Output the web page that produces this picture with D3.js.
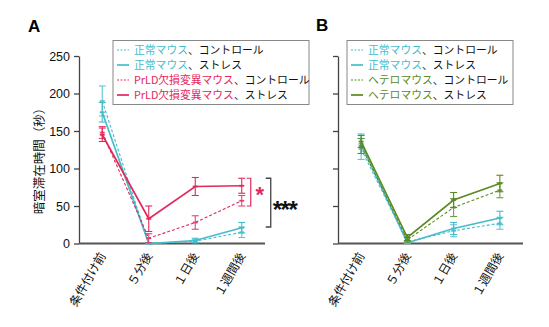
<!DOCTYPE html>
<html>
<head>
<meta charset="utf-8">
<script src="https://cdn.jsdelivr.net/npm/d3@7"></script>
<style>
  html, body { margin: 0; padding: 0; background: #fff; }
  svg { display: block; }
</style>
</head>
<body>
<svg id="chart" width="549" height="327"></svg>
<script>
// time points and y ticks
const timepoints = ["条件付け前", "５分後", "１日後", "１週間後"];
const yTicks = [0, 50, 100, 150, 200, 250];

// panel A: mean and SEM (seconds in dark chamber)
const aNormalCtrl = [190, 0, 3, 15];
const aNormalCtrlErr = [20, 1, 2, 7];
const aNormalStress = [175, 0, 4, 21];
const aNormalStressErr = [13, 1, 3, 7];
const aPrldCtrl = [148, 7, 28, 57];
const aPrldCtrlErr = [8, 6, 9, 7];
const aPrldStress = [145, 33, 76, 77];
const aPrldStressErr = [9, 17, 12, 10];

// panel B
const bNormalCtrl = [126, 2, 17, 27];
const bNormalCtrlErr = [14, 2, 8, 8];
const bNormalStress = [133, 1, 20, 34];
const bNormalStressErr = [13, 1, 8, 9];
const bHeteroCtrl = [130, 5, 48, 71];
const bHeteroCtrlErr = [10, 3, 12, 10];
const bHeteroStress = [136, 8, 58, 80];
const bHeteroStressErr = [8, 4, 10, 11];

const CYAN = "#46bccb", RED = "#e3285c", GREEN = "#5b8a23";
const JP = "'Noto Sans CJK JP', 'Noto Sans', sans-serif";
const NUM = "'Liberation Sans', Arial, sans-serif";

const svg = d3.select("#chart");
const y = d3.scaleLinear().domain([0, 250]).range([243.5, 56]);

const panels = [
  {
    letter: "A", lx: 28, ly: 32, x0: 79, x1: 265, showTicks: true,
    legend: { x: 113, w: 196 },
    series: [
      { v: aNormalCtrl, e: aNormalCtrlErr, c: CYAN, dash: true, name: "正常マウス", cond: "、コントロール" },
      { v: aNormalStress, e: aNormalStressErr, c: CYAN, dash: false, name: "正常マウス", cond: "、ストレス" },
      { v: aPrldCtrl, e: aPrldCtrlErr, c: RED, dash: true, name: "PrLD欠損変異マウス", cond: "、コントロール" },
      { v: aPrldStress, e: aPrldStressErr, c: RED, dash: false, name: "PrLD欠損変異マウス", cond: "、ストレス" }
    ]
  },
  {
    letter: "B", lx: 316, ly: 31, x0: 338, x1: 523, showTicks: false,
    legend: { x: 347, w: 166 },
    series: [
      { v: bNormalCtrl, e: bNormalCtrlErr, c: CYAN, dash: true, name: "正常マウス", cond: "、コントロール" },
      { v: bNormalStress, e: bNormalStressErr, c: CYAN, dash: false, name: "正常マウス", cond: "、ストレス" },
      { v: bHeteroCtrl, e: bHeteroCtrlErr, c: GREEN, dash: true, name: "ヘテロマウス", cond: "、コントロール" },
      { v: bHeteroStress, e: bHeteroStressErr, c: GREEN, dash: false, name: "ヘテロマウス", cond: "、ストレス" }
    ]
  }
];

panels.forEach(p => {
  const x = d3.scalePoint().domain(timepoints).range([p.x0, p.x1]).padding(0.5);
  const g = svg.append("g");

  // panel letter
  g.append("text")
    .attr("x", p.lx).attr("y", p.ly)
    .attr("font-family", NUM).attr("font-weight", 700).attr("font-size", 17)
    .text(p.letter);

  // y axis
  const yAxis = d3.axisLeft(y).tickValues(yTicks).tickSize(5).tickSizeOuter(0)
    .tickFormat(p.showTicks ? d3.format("d") : "");
  const ya = g.append("g").attr("transform", `translate(${p.x0},0)`).call(yAxis);
  ya.select(".domain").attr("stroke", "#444").attr("stroke-width", 1.3);
  ya.selectAll(".tick line").attr("stroke", "#444").attr("stroke-width", 1.3);
  ya.selectAll(".tick text").attr("font-family", NUM).attr("font-size", 12.5).attr("fill", "#111").attr("dx", -1);

  // x axis (line only, rotated labels)
  g.append("line")
    .attr("x1", p.x0).attr("x2", p.x1).attr("y1", y(0)).attr("y2", y(0))
    .attr("stroke", "#555").attr("stroke-width", 1.8);
  g.selectAll("text.xl").data(timepoints).enter().append("text")
    .attr("class", "xl")
    .attr("font-family", JP).attr("font-size", 12).attr("fill", "#111")
    .attr("text-anchor", "end")
    .attr("transform", d => `translate(${x(d) + 4},${y(0) + 12}) rotate(-60)`)
    .text(d => d);

  // series: error bars, then lines
  p.series.forEach(s => {
    const pts = s.v.map((v, i) => ({ t: timepoints[i], v, e: s.e[i] }));
    const sg = g.append("g");
    const eb = sg.selectAll("g.eb").data(pts).enter().append("g")
      .attr("stroke", s.c).attr("stroke-width", 1.1).attr("opacity", s.dash ? 0.85 : 1);
    eb.append("line")
      .attr("x1", d => x(d.t)).attr("x2", d => x(d.t))
      .attr("y1", d => y(Math.min(250, d.v + d.e))).attr("y2", d => y(Math.max(0, d.v - d.e)));
    eb.append("line")
      .attr("x1", d => x(d.t) - 3.5).attr("x2", d => x(d.t) + 3.5)
      .attr("y1", d => y(Math.min(250, d.v + d.e))).attr("y2", d => y(Math.min(250, d.v + d.e)));
    eb.append("line")
      .attr("x1", d => x(d.t) - 3.5).attr("x2", d => x(d.t) + 3.5)
      .attr("y1", d => y(Math.max(0, d.v - d.e))).attr("y2", d => y(Math.max(0, d.v - d.e)));
    eb.append("line")
      .attr("x1", d => x(d.t) - 2.5).attr("x2", d => x(d.t) + 2.5)
      .attr("y1", d => y(d.v)).attr("y2", d => y(d.v)).attr("stroke-width", 1.8);

    sg.append("path")
      .datum(pts)
      .attr("fill", "none")
      .attr("stroke", s.c)
      .attr("stroke-width", s.dash ? 1.1 : 1.7)
      .attr("stroke-dasharray", s.dash ? "3,2" : null)
      .attr("d", d3.line().x(d => x(d.t)).y(d => y(d.v)));
  });

  // legend
  const L = p.legend;
  const lg = g.append("g");
  lg.append("rect")
    .attr("x", L.x).attr("y", 40.5).attr("width", L.w).attr("height", 64)
    .attr("fill", "#fff").attr("stroke", "#888").attr("stroke-width", 1);
  p.series.forEach((s, i) => {
    const ry = 50 + i * 15;
    lg.append("line")
      .attr("x1", L.x + 4).attr("x2", L.x + 16).attr("y1", ry).attr("y2", ry)
      .attr("stroke", s.c).attr("stroke-width", s.dash ? 1.2 : 1.7)
      .attr("stroke-dasharray", s.dash ? "2,1.5" : null);
    const t = lg.append("text")
      .attr("x", L.x + 21).attr("y", ry).attr("dy", "0.36em")
      .attr("font-family", JP).attr("font-size", 10.8);
    t.append("tspan").attr("fill", s.c).text(s.name);
    t.append("tspan").attr("fill", "#111").text(s.cond);
  });

  // significance marks in panel A
  if (p.letter === "A") {
    const last = timepoints[3];
    const rx = x(last) + 9;
    const rTop = y(aPrldStress[3] + aPrldStressErr[3]);
    const rBot = y(aPrldCtrl[3] - aPrldCtrlErr[3]);
    g.append("path")
      .attr("d", `M${rx - 4},${rTop}H${rx}V${rBot}H${rx - 4}`)
      .attr("fill", "none").attr("stroke", RED).attr("stroke-width", 1.2);
    g.append("text")
      .attr("x", rx + 9).attr("y", (rTop + rBot) / 2 + 10)
      .attr("text-anchor", "middle").attr("font-family", NUM)
      .attr("font-size", 22).attr("font-weight", 700).attr("fill", RED).text("*");

    const bx = rx + 20;
    const bTop = rTop;
    const bBot = y(aNormalStress[3] - aNormalStressErr[3]) - 6;
    g.append("path")
      .attr("d", `M${bx - 5},${bTop}H${bx}V${bBot}H${bx - 5}`)
      .attr("fill", "none").attr("stroke", "#444").attr("stroke-width", 1.3);
    g.append("text")
      .attr("x", bx + 2).attr("y", (bTop + bBot) / 2 + 15)
      .attr("font-family", NUM).attr("font-size", 24).attr("font-weight", 700)
      .attr("fill", "#111").attr("letter-spacing", -1.5).text("***");
  }
});

// y axis title
svg.append("text")
  .attr("transform", "translate(38,158) rotate(-90)")
  .attr("text-anchor", "middle").attr("dominant-baseline", "central")
  .attr("font-family", JP).attr("font-size", 12.5).attr("fill", "#111")
  .text("暗室滞在時間（秒）");
</script>
</body>
</html>
